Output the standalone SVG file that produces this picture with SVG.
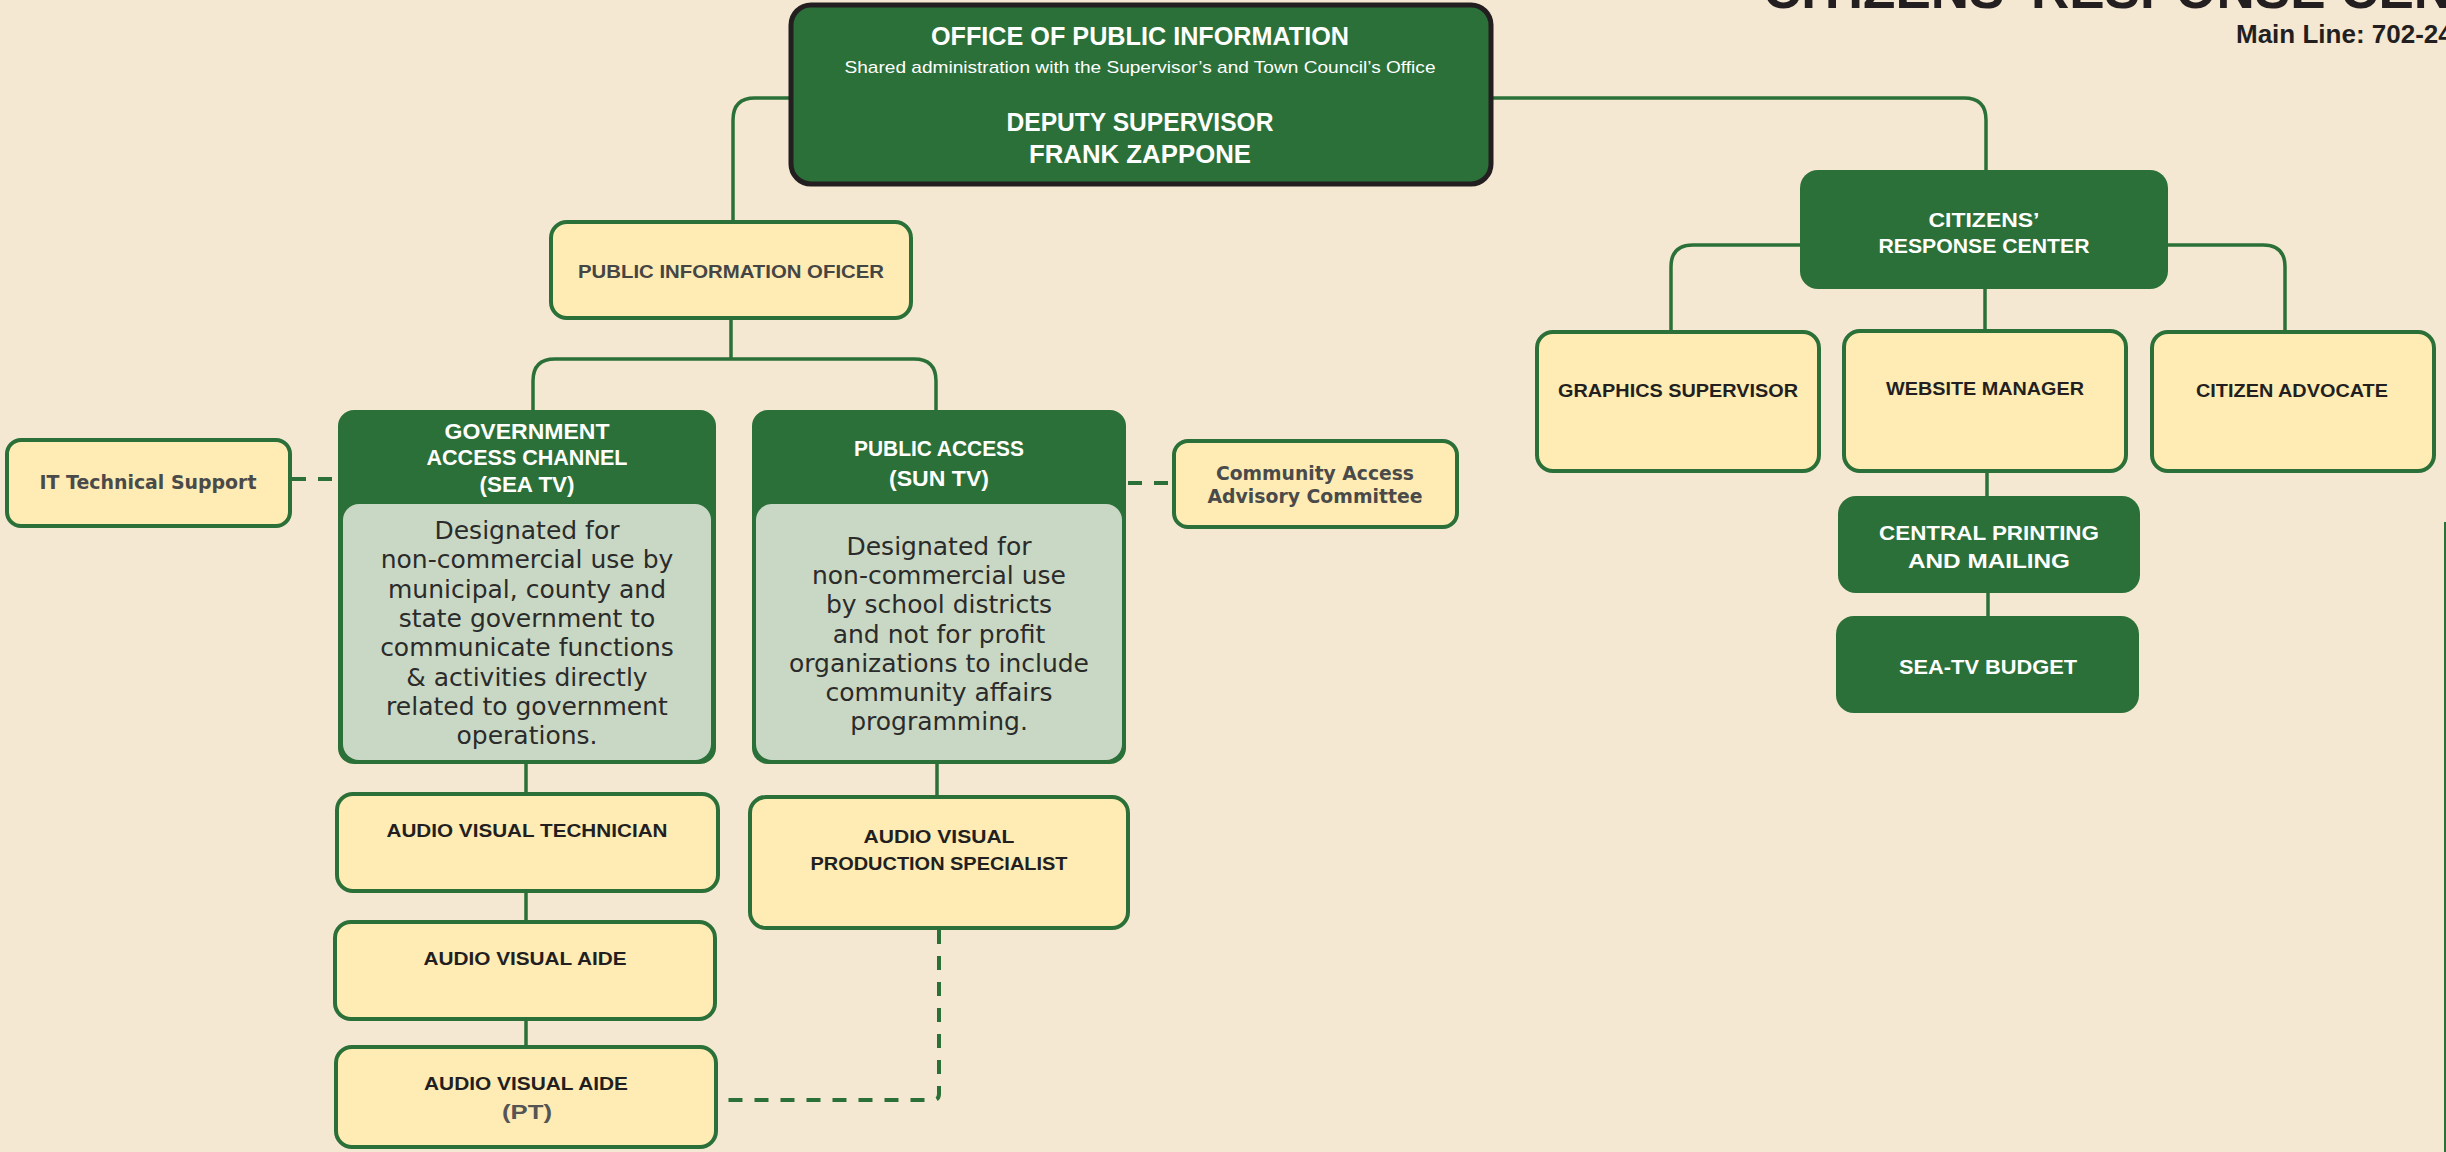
<svg xmlns="http://www.w3.org/2000/svg" width="2446" height="1152" viewBox="0 0 2446 1152">
<style>
.bg{fill:#f5e8d2}
.dk{fill:#2a7038}
.yl{fill:#feecb4;stroke:#2a7038;stroke-width:4}
.pn{fill:#c9d8c4}
.ln{fill:none;stroke:#2a7038;stroke-width:3.5}
.ds{fill:none;stroke:#2a7038;stroke-width:4;stroke-dasharray:14 12}
.t{font-family:"Liberation Sans",Arial,sans-serif;font-weight:bold;text-anchor:middle}
.w{fill:#ffffff}
.b{fill:#231f20}
.g{fill:#454545}
.v{font-family:"DejaVu Sans",Verdana,sans-serif;font-weight:bold;text-anchor:middle;fill:#4a4a4a}
.body{font-family:"DejaVu Sans",Verdana,sans-serif;font-size:25px;text-anchor:middle;fill:#2b2b2b}
</style>
<rect class="bg" x="0" y="0" width="2446" height="1152"/>

<!-- header fragments -->
<text x="1763" y="8" font-family="Liberation Sans,Arial,sans-serif" font-weight="bold" font-size="53" fill="#231f20">CITIZENS’ RESPONSE CENTER</text>
<text x="2236" y="43" font-family="Liberation Sans,Arial,sans-serif" font-weight="bold" font-size="26" fill="#231f20">Main Line: 702-24</text>
<line x1="2445" y1="522" x2="2445" y2="1152" stroke="#2a7038" stroke-width="2"/>

<g id="connectors">
<path class="ln" d="M791 98 H755 Q733 98 733 120 V222"/>
<path class="ln" d="M1491 98 H1964 Q1986 98 1986 120 V170"/>
<path class="ln" d="M731 318 V359"/>
<path class="ln" d="M533 410 V381 Q533 359 555 359 H914 Q936 359 936 381 V410"/>
<path class="ln" d="M526 764 V794"/>
<path class="ln" d="M526 891 V922"/>
<path class="ln" d="M526 1019 V1047"/>
<path class="ln" d="M937 764 V797"/>
<path class="ln" d="M1800 245 H1693 Q1671 245 1671 267 V332"/>
<path class="ln" d="M2168 245 H2263 Q2285 245 2285 267 V332"/>
<path class="ln" d="M1985 289 V331"/>
<path class="ln" d="M1987 471 V496"/>
<path class="ln" d="M1988 593 V616"/>
<path class="ds" d="M292 479 H338"/>
<path class="ds" d="M1128 483 H1173"/>
<path class="ds" d="M939 930 V1094 Q939 1100 933 1100 H718"/>
</g>

<g id="office">
<rect x="791" y="5" width="700" height="179" rx="20" fill="#2a7038" stroke="#231f20" stroke-width="5"/>
<text class="t w" x="1140" y="45" font-size="25" textLength="418" lengthAdjust="spacingAndGlyphs">OFFICE OF PUBLIC INFORMATION</text>
<text x="1140" y="73" font-family="Liberation Sans,Arial,sans-serif" font-size="17" text-anchor="middle" fill="#ffffff" textLength="591" lengthAdjust="spacingAndGlyphs">Shared administration with the Supervisor’s and Town Council’s Office</text>
<text class="t w" x="1140" y="131" font-size="26" textLength="267" lengthAdjust="spacingAndGlyphs">DEPUTY SUPERVISOR</text>
<text class="t w" x="1140" y="163" font-size="26" textLength="222" lengthAdjust="spacingAndGlyphs">FRANK ZAPPONE</text>
</g>

<g id="pio">
<rect class="yl" x="551" y="222" width="360" height="96" rx="16"/>
<text class="t g" x="731" y="278" font-size="19" textLength="306" lengthAdjust="spacingAndGlyphs">PUBLIC INFORMATION OFICER</text>
</g>

<g id="gov">
<rect class="dk" x="338" y="410" width="378" height="354" rx="16"/>
<rect class="pn" x="343" y="504" width="368" height="256" rx="16"/>
<text class="t w" x="527" y="439" font-size="22" textLength="165" lengthAdjust="spacingAndGlyphs">GOVERNMENT</text>
<text class="t w" x="527" y="465" font-size="22" textLength="201" lengthAdjust="spacingAndGlyphs">ACCESS CHANNEL</text>
<text class="t w" x="527" y="492" font-size="22" textLength="95" lengthAdjust="spacingAndGlyphs">(SEA TV)</text>
<text class="body" x="527" y="539">Designated for</text>
<text class="body" x="527" y="568">non-commercial use by</text>
<text class="body" x="527" y="598">municipal, county and</text>
<text class="body" x="527" y="627">state government to</text>
<text class="body" x="527" y="656">communicate functions</text>
<text class="body" x="527" y="686">&amp; activities directly</text>
<text class="body" x="527" y="715">related to government</text>
<text class="body" x="527" y="744">operations.</text>
</g>

<g id="sun">
<rect class="dk" x="752" y="410" width="374" height="354" rx="16"/>
<rect class="pn" x="756" y="504" width="366" height="256" rx="16"/>
<text class="t w" x="939" y="456" font-size="22" textLength="170" lengthAdjust="spacingAndGlyphs">PUBLIC ACCESS</text>
<text class="t w" x="939" y="486" font-size="22" textLength="100" lengthAdjust="spacingAndGlyphs">(SUN TV)</text>
<text class="body" x="939" y="555">Designated for</text>
<text class="body" x="939" y="584">non-commercial use</text>
<text class="body" x="939" y="613">by school districts</text>
<text class="body" x="939" y="643">and not for profit</text>
<text class="body" x="939" y="672">organizations to include</text>
<text class="body" x="939" y="701">community affairs</text>
<text class="body" x="939" y="730">programming.</text>
</g>

<g id="it">
<rect class="yl" x="7" y="440" width="283" height="86" rx="14"/>
<text class="v" x="148" y="489" font-size="19" textLength="217" lengthAdjust="spacingAndGlyphs">IT Technical Support</text>
</g>

<g id="community">
<rect class="yl" x="1174" y="441" width="283" height="86" rx="14"/>
<text class="v" x="1315" y="480" font-size="19" textLength="198" lengthAdjust="spacingAndGlyphs">Community Access</text>
<text class="v" x="1315" y="503" font-size="19" textLength="215" lengthAdjust="spacingAndGlyphs">Advisory Committee</text>
</g>

<g id="avt">
<rect class="yl" x="337" y="794" width="381" height="97" rx="16"/>
<text class="t b" x="527" y="837" font-size="19" textLength="281" lengthAdjust="spacingAndGlyphs">AUDIO VISUAL TECHNICIAN</text>
</g>

<g id="ava">
<rect class="yl" x="335" y="922" width="380" height="97" rx="16"/>
<text class="t b" x="525" y="965" font-size="19" textLength="203" lengthAdjust="spacingAndGlyphs">AUDIO VISUAL AIDE</text>
</g>

<g id="avapt">
<rect class="yl" x="336" y="1047" width="380" height="100" rx="16"/>
<text class="t b" x="526" y="1090" font-size="19" textLength="204" lengthAdjust="spacingAndGlyphs">AUDIO VISUAL AIDE</text>
<text class="t" x="527" y="1119" font-size="21" fill="#555555" textLength="50" lengthAdjust="spacingAndGlyphs">(PT)</text>
</g>

<g id="avps">
<rect class="yl" x="750" y="797" width="378" height="131" rx="16"/>
<text class="t b" x="939" y="843" font-size="19" textLength="151" lengthAdjust="spacingAndGlyphs">AUDIO VISUAL</text>
<text class="t b" x="939" y="870" font-size="19" textLength="257" lengthAdjust="spacingAndGlyphs">PRODUCTION SPECIALIST</text>
</g>

<g id="crc">
<rect class="dk" x="1800" y="170" width="368" height="119" rx="18"/>
<text class="t w" x="1984" y="227" font-size="20" textLength="111" lengthAdjust="spacingAndGlyphs">CITIZENS’</text>
<text class="t w" x="1984" y="253" font-size="20" textLength="211" lengthAdjust="spacingAndGlyphs">RESPONSE CENTER</text>
</g>

<g id="graphics">
<rect class="yl" x="1537" y="332" width="282" height="139" rx="16"/>
<text class="t b" x="1678" y="397" font-size="19" textLength="240" lengthAdjust="spacingAndGlyphs">GRAPHICS SUPERVISOR</text>
</g>

<g id="website">
<rect class="yl" x="1844" y="331" width="282" height="140" rx="16"/>
<text class="t b" x="1985" y="395" font-size="19" textLength="198" lengthAdjust="spacingAndGlyphs">WEBSITE MANAGER</text>
</g>

<g id="advocate">
<rect class="yl" x="2152" y="332" width="282" height="139" rx="16"/>
<text class="t b" x="2292" y="397" font-size="19" textLength="192" lengthAdjust="spacingAndGlyphs">CITIZEN ADVOCATE</text>
</g>

<g id="printing">
<rect class="dk" x="1838" y="496" width="302" height="97" rx="18"/>
<text class="t w" x="1989" y="540" font-size="21" textLength="220" lengthAdjust="spacingAndGlyphs">CENTRAL PRINTING</text>
<text class="t w" x="1989" y="568" font-size="21" textLength="162" lengthAdjust="spacingAndGlyphs">AND MAILING</text>
</g>

<g id="budget">
<rect class="dk" x="1836" y="616" width="303" height="97" rx="18"/>
<text class="t w" x="1988" y="674" font-size="21" textLength="178" lengthAdjust="spacingAndGlyphs">SEA-TV BUDGET</text>
</g>
</svg>
